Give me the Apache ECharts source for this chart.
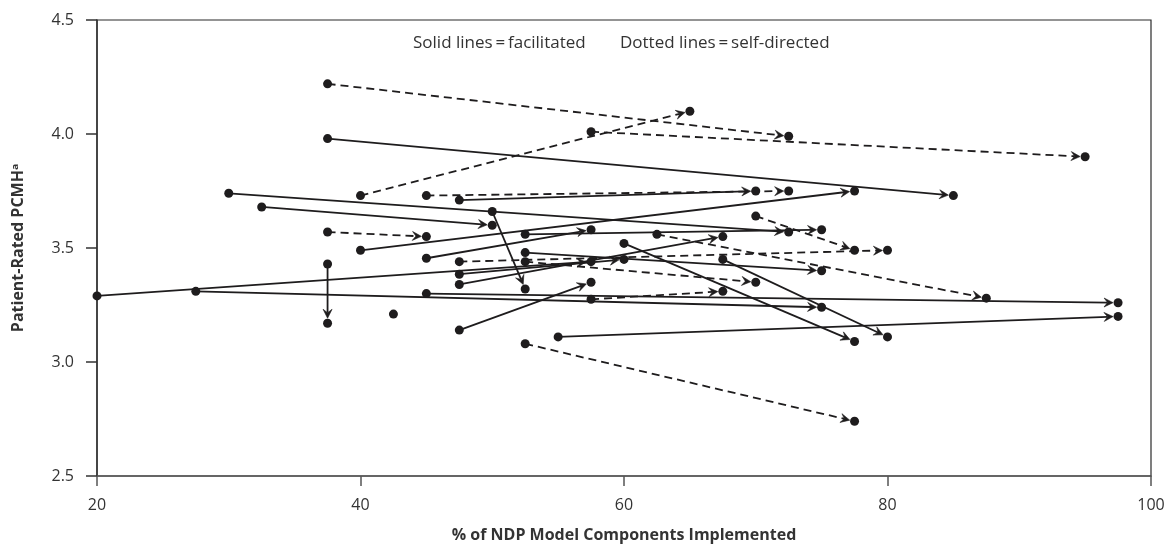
<!DOCTYPE html>
<html>
<head>
<meta charset="utf-8">
<script src="https://cdn.jsdelivr.net/npm/echarts@6/dist/echarts.min.js"></script>
<style>
  html, body { margin: 0; padding: 0; background: #fff; }
  #chart { width: 1172px; height: 550px; }
</style>
</head>
<body>
<div id="chart"></div>
<script>
// ---- Data ----
// Facilitated practices (solid lines): baseline point -> follow-up point
const facilitatedBaseline = [
  [37.5, 3.98], [47.5, 3.71], [40, 3.49], [32.5, 3.68], [50, 3.66],
  [60, 3.52], [67.5, 3.45], [37.5, 3.43], [47.5, 3.14], [55, 3.11],
  [52.5, 3.48], [30, 3.74], [52.5, 3.56], [45, 3.455], [20, 3.29],
  [47.5, 3.385], [47.5, 3.34], [45, 3.30], [27.5, 3.31]
];
const facilitatedFollowUp = [
  [85, 3.73], [70, 3.75], [77.5, 3.75], [50, 3.60], [52.5, 3.32],
  [77.5, 3.09], [80, 3.11], [37.5, 3.17], [57.5, 3.35], [97.5, 3.20],
  [75, 3.40], [72.5, 3.57], [75, 3.58], [57.5, 3.58], [57.5, 3.44],
  [60, 3.45], [67.5, 3.55], [97.5, 3.26], [75, 3.24]
];
// Self-directed practices (dotted lines): baseline point -> follow-up point
const selfDirectedBaseline = [
  [37.5, 4.22], [57.5, 4.01], [40, 3.73], [45, 3.73], [37.5, 3.57],
  [70, 3.64], [62.5, 3.56], [47.5, 3.44], [52.5, 3.44], [57.5, 3.275],
  [52.5, 3.08]
];
const selfDirectedFollowUp = [
  [72.5, 3.99], [95, 3.90], [65, 4.10], [72.5, 3.75], [45, 3.55],
  [77.5, 3.49], [87.5, 3.28], [80, 3.49], [70, 3.35], [67.5, 3.31],
  [77.5, 2.74]
];
// Practice with a single measurement
const unpairedPoints = [[42.5, 3.21]];

const xTicks = [20, 40, 60, 80, 100];
const yTicks = [2.5, 3.0, 3.5, 4.0, 4.5];

const xTitle = '% of NDP Model Components Implemented';
const yTitle = 'Patient-Rated PCMH\u1D43';
const noteSolid = 'Solid lines\u2009=\u2009facilitated';
const noteDotted = 'Dotted lines\u2009=\u2009self-directed';

// ---- Build series data ----
function pairs(a, b) { return a.map((p, i) => [p[0], p[1], b[i][0], b[i][1]]); }
const facData = pairs(facilitatedBaseline, facilitatedFollowUp);
const selfData = pairs(selfDirectedBaseline, selfDirectedFollowUp);
const allDots = facilitatedBaseline.concat(facilitatedFollowUp, selfDirectedBaseline, selfDirectedFollowUp, unpairedPoints);

const INK = '#1e1c1d';
const DOT_R = 4.5;

function makeRender(dashed) {
  return function (params, api) {
    const p1 = api.coord([api.value(0), api.value(1)]);
    const p2 = api.coord([api.value(2), api.value(3)]);
    const dx = p2[0] - p1[0], dy = p2[1] - p1[1];
    const len = Math.sqrt(dx * dx + dy * dy) || 1;
    const ux = dx / len, uy = dy / len;
    const nx = -uy, ny = ux;
    const tx = p2[0] - ux * (DOT_R + 0.5), ty = p2[1] - uy * (DOT_R + 0.5);
    const back = 9, inner = 5.5, half = 4.5;
    const pts = [
      [tx, ty],
      [tx - ux * back + nx * half, ty - uy * back + ny * half],
      [tx - ux * inner, ty - uy * inner],
      [tx - ux * back - nx * half, ty - uy * back - ny * half]
    ];
    return {
      type: 'group',
      children: [
        {
          type: 'line',
          shape: { x1: p1[0], y1: p1[1], x2: tx - ux * inner, y2: ty - uy * inner },
          style: { stroke: INK, lineWidth: 1.8, lineDash: dashed ? [8, 5] : null, fill: null }
        },
        {
          type: 'polygon',
          shape: { points: pts },
          style: { fill: INK, stroke: INK, lineWidth: 0.6 }
        }
      ]
    };
  };
}

const chart = echarts.init(document.getElementById('chart'), null, { renderer: 'canvas' });
const FONT = '"Open Sans", "Noto Sans", sans-serif';

const option = {
  animation: false,
  backgroundColor: '#ffffff',
  grid: { left: 97, right: 21, top: 20, bottom: 74, show: true, borderColor: '#2a2a2a', borderWidth: 1.2 },
  xAxis: {
    type: 'value', min: xTicks[0], max: xTicks[xTicks.length - 1], interval: xTicks[1] - xTicks[0],
    axisLine: { show: true, onZero: false, lineStyle: { color: '#555', width: 1.5 } },
    axisTick: { show: true, length: 10, lineStyle: { color: '#555', width: 1.5 } },
    axisLabel: { margin: 21, fontSize: 16, color: '#333', fontFamily: FONT },
    splitLine: { show: false },
    name: xTitle, nameLocation: 'middle', nameGap: 51,
    nameTextStyle: { fontWeight: 'bold', fontSize: 16, color: '#333', fontFamily: FONT }
  },
  yAxis: {
    type: 'value', min: yTicks[0], max: yTicks[yTicks.length - 1], interval: 0.5,
    axisLine: { show: true, onZero: false, lineStyle: { color: '#333', width: 1.5 } },
    axisTick: { show: true, length: 11, lineStyle: { color: '#333', width: 1.5 } },
    axisLabel: { margin: 23, fontSize: 16, color: '#333', fontFamily: FONT, formatter: v => v.toFixed(1) },
    splitLine: { show: false },
    name: yTitle, nameLocation: 'middle', nameGap: 71,
    nameTextStyle: { fontWeight: 'bold', fontSize: 16, color: '#333', fontFamily: FONT }
  },
  graphic: [
    { type: 'text', left: 413, top: 35, style: { text: noteSolid, font: '17px ' + FONT, fill: '#333' } },
    { type: 'text', left: 620, top: 35, style: { text: noteDotted, font: '17px ' + FONT, fill: '#333' } }
  ],
  series: [
    {
      type: 'custom', name: 'facilitated', renderItem: makeRender(false),
      data: facData, encode: { x: [0, 2], y: [1, 3] }, z: 2, silent: true
    },
    {
      type: 'custom', name: 'self-directed', renderItem: makeRender(true),
      data: selfData, encode: { x: [0, 2], y: [1, 3] }, z: 2, silent: true
    },
    {
      type: 'scatter', name: 'points', data: allDots, symbol: 'circle', symbolSize: DOT_R * 2,
      itemStyle: { color: INK, opacity: 1 }, z: 3, silent: true
    }
  ]
};
chart.setOption(option);
</script>
</body>
</html>
